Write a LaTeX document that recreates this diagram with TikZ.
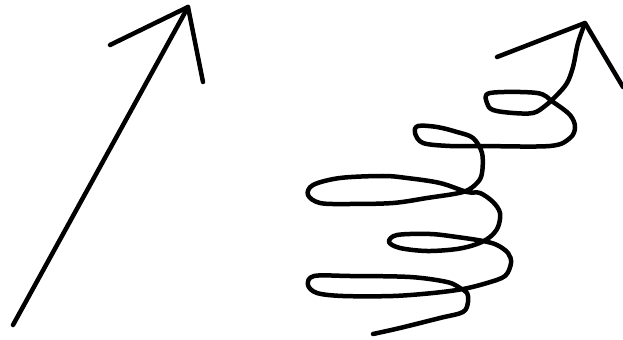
\documentclass[tikz,border=0pt]{standalone}
\usepackage{tikz}
\begin{document}
\begin{tikzpicture}[
    x=0.025cm, y=-0.025cm,
    pen/.style={draw, line width=3.2pt, line cap=round, line join=round}
]
\useasboundingbox (0,0) rectangle (623,340);

\coordinate (tail) at (13,325);
\coordinate (tip) at (188,7);
\coordinate (coiltail) at (373,334);
\coordinate (coiltip) at (585,23);

\draw[pen] (tail) -- (tip);
\draw[pen] (110,45) -- (tip) -- (203,82);

\draw[pen] plot[smooth, tension=0.55] coordinates {
    (coiltail) (400,328) (440,318) (463,312) (468,302) (467,293) (460,288)
    (447,282) (410,277) (350,276) (314,276) (308,285) (317,293) (343,296)
    (393,296) (433,293) (463,289) (487,283) (505,276) (511,263) (508,253)
    (497,245) (483,241) (457,237) (430,234) (397,235) (389,242) (400,248)
    (427,251) (457,249) (477,244) (490,237) (498,227) (500,213) (493,202)
    (480,193) (467,192) (440,183) (407,178) (383,176) (340,178) (313,185)
    (308,195) (320,203) (350,204) (393,203) (427,198) (463,192) (477,183)
    (482,173) (482,153) (473,138) (457,132) (437,127) (418,126) (415,133)
    (423,143) (450,146) (480,146) (550,146) (570,138) (575,127) (570,115)
    (553,102) (537,93) (490,93) (487,103) (493,110) (513,113) (533,113)
    (545,106) (557,95) (567,83) (573,67) (578,43) (coiltip)};
\draw[pen] (497,57) -- (coiltip) -- (623,87);
\end{tikzpicture}
\end{document}
